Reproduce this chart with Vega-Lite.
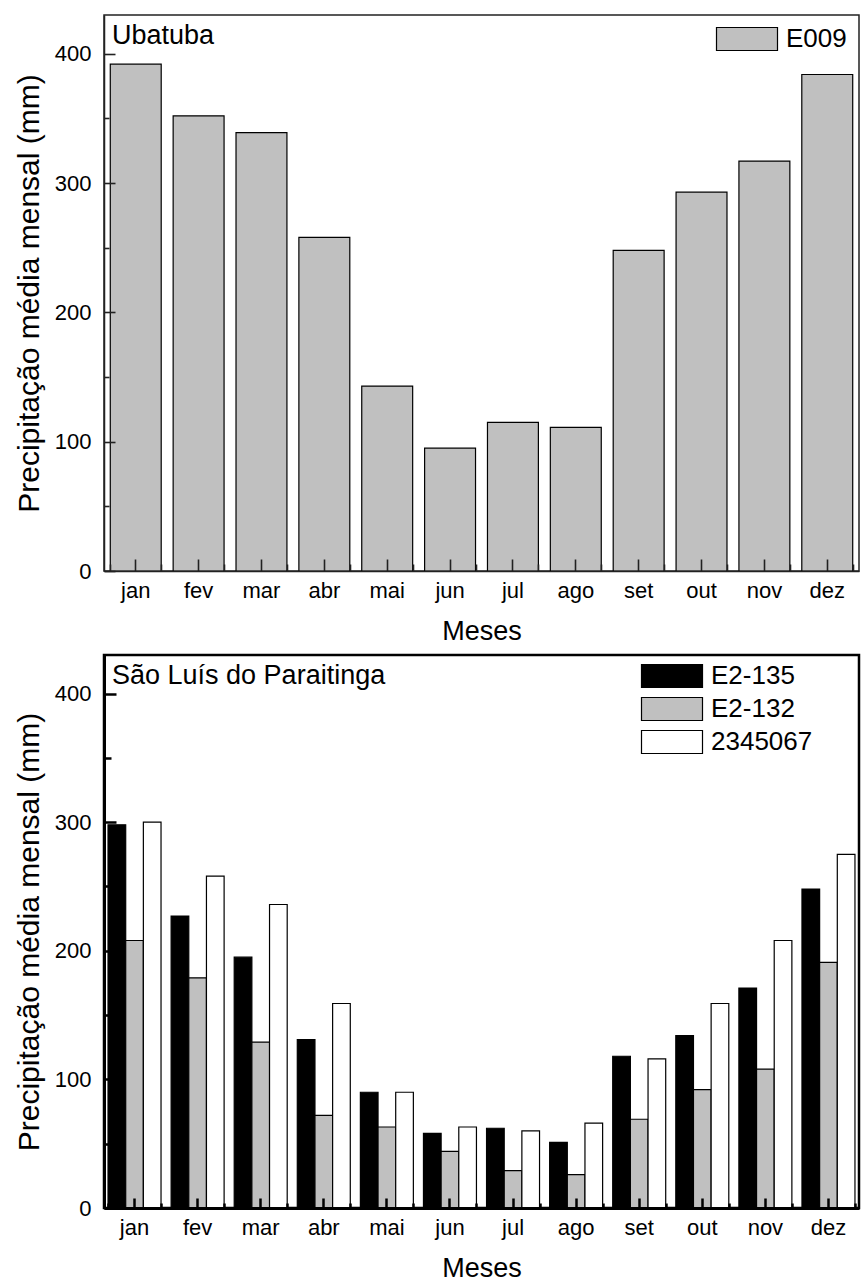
{
  "$schema": "https://vega.github.io/schema/vega-lite/v6.json",
  "padding": {"left": 13, "top": 14, "right": 0, "bottom": 0},
  "background": "white",
  "spacing": 8,
  "resolve": {"scale": {"color": "independent"}, "legend": {"color": "independent"}},
  "datasets": {
    "ubatuba": [
      {"mes": "jan", "estacao": "E009", "valor": 392},
      {"mes": "fev", "estacao": "E009", "valor": 352},
      {"mes": "mar", "estacao": "E009", "valor": 339},
      {"mes": "abr", "estacao": "E009", "valor": 258},
      {"mes": "mai", "estacao": "E009", "valor": 143},
      {"mes": "jun", "estacao": "E009", "valor": 95},
      {"mes": "jul", "estacao": "E009", "valor": 115},
      {"mes": "ago", "estacao": "E009", "valor": 111},
      {"mes": "set", "estacao": "E009", "valor": 248},
      {"mes": "out", "estacao": "E009", "valor": 293},
      {"mes": "nov", "estacao": "E009", "valor": 317},
      {"mes": "dez", "estacao": "E009", "valor": 384}
    ],
    "saoluis": [
      {"mes": "jan", "estacao": "E2-135", "valor": 298},
      {"mes": "fev", "estacao": "E2-135", "valor": 227},
      {"mes": "mar", "estacao": "E2-135", "valor": 195},
      {"mes": "abr", "estacao": "E2-135", "valor": 131},
      {"mes": "mai", "estacao": "E2-135", "valor": 90},
      {"mes": "jun", "estacao": "E2-135", "valor": 58},
      {"mes": "jul", "estacao": "E2-135", "valor": 62},
      {"mes": "ago", "estacao": "E2-135", "valor": 51},
      {"mes": "set", "estacao": "E2-135", "valor": 118},
      {"mes": "out", "estacao": "E2-135", "valor": 134},
      {"mes": "nov", "estacao": "E2-135", "valor": 171},
      {"mes": "dez", "estacao": "E2-135", "valor": 248},
      {"mes": "jan", "estacao": "E2-132", "valor": 208},
      {"mes": "fev", "estacao": "E2-132", "valor": 179},
      {"mes": "mar", "estacao": "E2-132", "valor": 129},
      {"mes": "abr", "estacao": "E2-132", "valor": 72},
      {"mes": "mai", "estacao": "E2-132", "valor": 63},
      {"mes": "jun", "estacao": "E2-132", "valor": 44},
      {"mes": "jul", "estacao": "E2-132", "valor": 29},
      {"mes": "ago", "estacao": "E2-132", "valor": 26},
      {"mes": "set", "estacao": "E2-132", "valor": 69},
      {"mes": "out", "estacao": "E2-132", "valor": 92},
      {"mes": "nov", "estacao": "E2-132", "valor": 108},
      {"mes": "dez", "estacao": "E2-132", "valor": 191},
      {"mes": "jan", "estacao": "2345067", "valor": 300},
      {"mes": "fev", "estacao": "2345067", "valor": 258},
      {"mes": "mar", "estacao": "2345067", "valor": 236},
      {"mes": "abr", "estacao": "2345067", "valor": 159},
      {"mes": "mai", "estacao": "2345067", "valor": 90},
      {"mes": "jun", "estacao": "2345067", "valor": 63},
      {"mes": "jul", "estacao": "2345067", "valor": 60},
      {"mes": "ago", "estacao": "2345067", "valor": 66},
      {"mes": "set", "estacao": "2345067", "valor": 116},
      {"mes": "out", "estacao": "2345067", "valor": 159},
      {"mes": "nov", "estacao": "2345067", "valor": 208},
      {"mes": "dez", "estacao": "2345067", "valor": 275}
    ]
  },
  "vconcat": [
    {
      "width": 755,
      "height": 556,
      "view": {"stroke": "#222222", "strokeWidth": 1.5},
      "title": {"text": "Ubatuba", "anchor": "start", "frame": "group", "orient": "top", "offset": -35, "baseline": "top", "dx": 8, "fontSize": 27, "fontWeight": "normal", "color": "black"},
      "data": {"name": "ubatuba"},
      "layer": [
        {
          "mark": {"type": "bar", "stroke": "black", "strokeWidth": 1.2},
          "encoding": {
            "x": {
              "field": "mes", "type": "nominal",
              "sort": ["jan", "fev", "mar", "abr", "mai", "jun", "jul", "ago", "set", "out", "nov", "dez"],
              "scale": {"paddingInner": 0.19, "paddingOuter": 0.1},
              "axis": {"orient": "bottom", "zindex": 1, "title": "Meses", "titleFontSize": 27, "titleFontWeight": "normal", "titleColor": "black", "titlePadding": 17,
                       "labelFontSize": 22, "labelColor": "black", "labelPadding": 21, "labelAngle": 0,
                       "ticks": true, "tickSize": -12, "tickColor": "#222222", "tickWidth": 1.6, "domainColor": "#222222", "domainWidth": 1.5, "grid": false}
            },
            "y": {
              "field": "valor", "type": "quantitative",
              "scale": {"domain": [0, 430], "nice": false},
              "axis": {"orient": "left", "zindex": 1, "values": [0, 100, 200, 300, 400], "title": "Precipitação média mensal (mm)", "titleFontSize": 30, "titleFontWeight": "normal", "titleColor": "black", "titlePadding": 10,
                       "labelFontSize": 22, "labelColor": "black", "labelPadding": 24,
                       "ticks": true, "tickSize": -11, "tickColor": "#222222", "tickWidth": 1.6, "domainColor": "#222222", "domainWidth": 1.5, "grid": false}
            },
            "color": {
              "field": "estacao", "type": "nominal",
              "scale": {"domain": ["E009"], "range": ["#c0c0c0"]},
              "legend": {"orient": "none", "legendX": 649, "legendY": 11, "title": null,
                         "symbolType": "M-4.304,-1L1,-1L1,1L-4.304,1Z", "symbolSize": 529,
                         "symbolStrokeColor": "black", "symbolStrokeWidth": 1.2,
                         "labelFontSize": 26, "labelColor": "black", "labelOffset": 7}
            }
          }
        },
        {
          "mark": {"type": "bar", "opacity": 0},
          "encoding": {
            "x": {
              "field": "mes", "type": "nominal",
              "sort": ["jan", "fev", "mar", "abr", "mai", "jun", "jul", "ago", "set", "out", "nov", "dez"],
              "axis": {"orient": "bottom", "zindex": 1, "tickBand": "extent", "labels": false, "title": null, "domain": false, "grid": false,
                       "ticks": true, "tickSize": -7, "tickColor": "#222222", "tickWidth": 1.6}
            },
            "y": {
              "field": "valor", "type": "quantitative",
              "scale": {"domain": [0, 430], "nice": false},
              "axis": {"orient": "left", "zindex": 1, "values": [50, 150, 250, 350], "labels": false, "title": null, "domain": false, "grid": false,
                       "ticks": true, "tickSize": -5, "tickColor": "#222222", "tickWidth": 1.6}
            }
          }
        }
      ],
      "resolve": {"axis": {"x": "independent", "y": "independent"}}
    },
    {
      "width": 755,
      "height": 553,
      "view": {"stroke": "black", "strokeWidth": 2.5},
      "title": {"text": "São Luís do Paraitinga", "anchor": "start", "frame": "group", "orient": "top", "offset": -35, "baseline": "top", "dx": 8, "fontSize": 27, "fontWeight": "normal", "color": "black"},
      "data": {"name": "saoluis"},
      "layer": [
        {
          "mark": {"type": "bar", "stroke": "black", "strokeWidth": 1.2},
          "encoding": {
            "x": {
              "field": "mes", "type": "nominal",
              "sort": ["jan", "fev", "mar", "abr", "mai", "jun", "jul", "ago", "set", "out", "nov", "dez"],
              "scale": {"paddingInner": 0.16, "paddingOuter": 0.064},
              "axis": {"orient": "bottom", "zindex": 1, "title": "Meses", "titleFontSize": 27, "titleFontWeight": "normal", "titleColor": "black", "titlePadding": 17,
                       "labelFontSize": 22, "labelColor": "black", "labelPadding": 19, "labelAngle": 0,
                       "ticks": true, "tickSize": -10, "tickColor": "black", "tickWidth": 2.5, "domainColor": "black", "domainWidth": 3, "grid": false}
            },
            "xOffset": {
              "field": "estacao", "type": "nominal",
              "sort": ["E2-135", "E2-132", "2345067"],
              "scale": {"paddingInner": 0, "paddingOuter": 0}
            },
            "y": {
              "field": "valor", "type": "quantitative",
              "scale": {"domain": [0, 430], "nice": false},
              "axis": {"orient": "left", "zindex": 1, "values": [0, 100, 200, 300, 400], "title": "Precipitação média mensal (mm)", "titleFontSize": 30, "titleFontWeight": "normal", "titleColor": "black", "titlePadding": 10,
                       "labelFontSize": 22, "labelColor": "black", "labelPadding": 25,
                       "ticks": true, "tickSize": -12, "tickColor": "black", "tickWidth": 2.5, "domainColor": "black", "domainWidth": 3, "grid": false}
            },
            "color": {
              "field": "estacao", "type": "nominal",
              "sort": ["E2-135", "E2-132", "2345067"],
              "scale": {"domain": ["E2-135", "E2-132", "2345067"], "range": ["#000000", "#c0c0c0", "#ffffff"]},
              "legend": {"orient": "none", "legendX": 574, "legendY": 8, "title": null,
                         "symbolType": "M-4.304,-1L1,-1L1,1L-4.304,1Z", "symbolSize": 529,
                         "symbolStrokeColor": "black", "symbolStrokeWidth": 1.2,
                         "labelFontSize": 26, "labelColor": "black", "labelOffset": 7, "rowPadding": 5}
            }
          }
        },
        {
          "mark": {"type": "bar", "opacity": 0},
          "encoding": {
            "x": {
              "field": "mes", "type": "nominal",
              "sort": ["jan", "fev", "mar", "abr", "mai", "jun", "jul", "ago", "set", "out", "nov", "dez"],
              "axis": {"orient": "bottom", "zindex": 1, "tickBand": "extent", "labels": false, "title": null, "domain": false, "grid": false,
                       "ticks": true, "tickSize": -5, "tickColor": "black", "tickWidth": 2.5}
            },
            "y": {
              "field": "valor", "type": "quantitative", "stack": null,
              "scale": {"domain": [0, 430], "nice": false},
              "axis": {"orient": "left", "zindex": 1, "values": [50, 150, 250, 350], "labels": false, "title": null, "domain": false, "grid": false,
                       "ticks": true, "tickSize": -7, "tickColor": "black", "tickWidth": 2.5}
            }
          }
        }
      ],
      "resolve": {"axis": {"x": "independent", "y": "independent"}}
    }
  ],
  "config": {
    "font": "Liberation Sans",
    "axis": {"labelFont": "Liberation Sans", "titleFont": "Liberation Sans"},
    "legend": {"labelFont": "Liberation Sans"},
    "title": {"font": "Liberation Sans"}
  }
}
